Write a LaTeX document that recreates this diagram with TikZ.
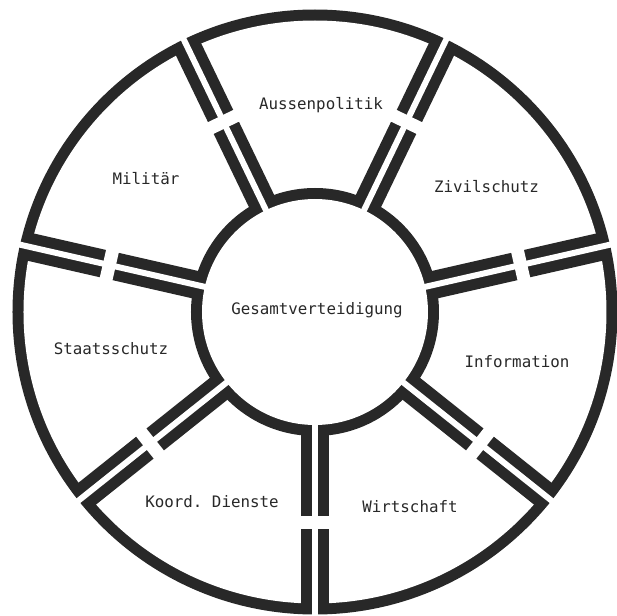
\documentclass[tikz,border=0pt]{standalone}
\usepackage{fontspec}
\setmonofont{DejaVu Sans Mono}
\usepackage{tikz}
\usetikzlibrary{calc}
\definecolor{ink}{RGB}{40,40,40}
\tikzset{lbl/.style={font=\fontsize{9}{10}\selectfont\ttfamily, text=ink, anchor=base, inner sep=0pt}}

\begin{document}
\begin{tikzpicture}
  \useasboundingbox (-6.30,-6.08) rectangle (6.04,6.24);
  % outer ring
  \fill[ink] (0,0) circle (6.05);
  \fill[white] (0,0) circle (5.83);
  % double walls between the sectors
  \foreach \k in {0,...,6} {
    \draw[ink, line width=0.56cm] (-90+\k*360/7:2.3) -- (-90+\k*360/7:5.9);
  }
  % inner ring
  \fill[ink] (0,0) circle (2.48);
  \fill[white] (0,0) circle (2.26);
  % gaps and breaks
  \foreach \k in {0,...,6} {
    \draw[white, line width=0.12cm] (-90+\k*360/7:2.0) -- (-90+\k*360/7:6.4);
    \draw[white, line width=0.26cm, rotate=-90+\k*360/7] (4.22,-0.45) -- (4.22,0.45);
  }
  \node[lbl] (gesamt) at (0.04,-0.06) {Gesamtverteidigung};
  \foreach \x/\y/\n/\t in {0.12/4.04/aussen/Aussenpolitik, -3.38/2.54/militaer/Militär,
      3.43/2.38/zivil/Zivilschutz, -4.08/-0.86/staats/Staatsschutz,
      4.04/-1.10/info/Information, 1.90/-4.02/wirt/Wirtschaft,
      -2.06/-3.92/koord/Koord. Dienste} {
    \node[lbl] (\n) at (\x,\y) {\t};
  }
\end{tikzpicture}
\end{document}
